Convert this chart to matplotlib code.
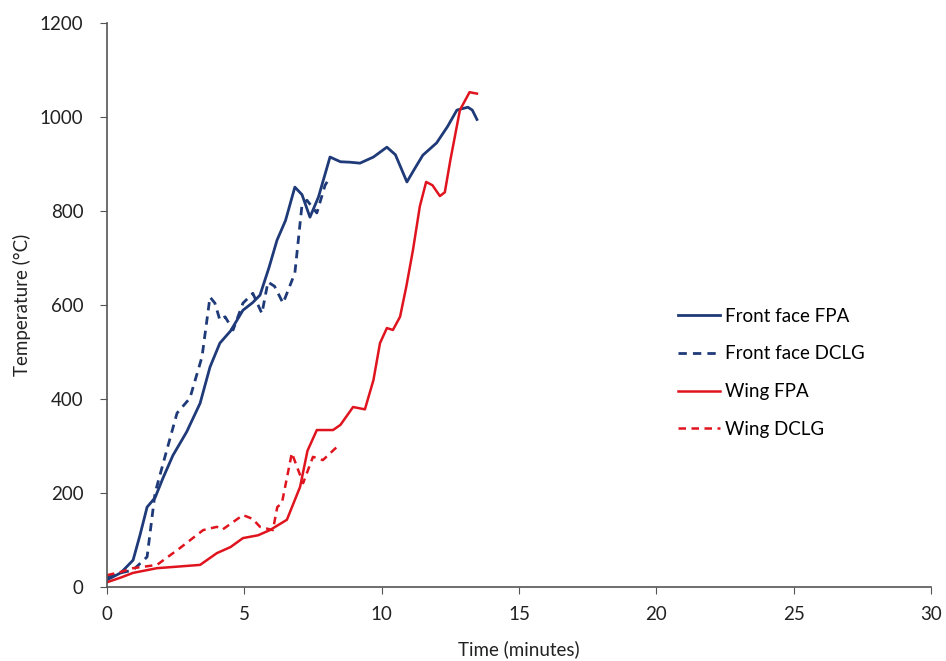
import matplotlib.pyplot as plt

# Front face FPA (solid blue)
ff_fpa_t = [0, 0.5, 0.95, 1.2, 1.46, 1.75, 2.04, 2.4, 2.9, 3.39, 3.75, 4.11, 4.5, 4.95, 5.3, 5.57,
            5.9, 6.19, 6.5, 6.84, 7.1, 7.39, 7.7, 8.12, 8.5, 8.85, 9.21, 9.7, 10.19, 10.5, 10.92,
            11.2, 11.5, 12.0, 12.4, 12.74, 13.14, 13.3, 13.47]
ff_fpa_T = [15, 30, 57, 110, 170, 190, 232, 280, 330, 391, 468, 519, 545, 589, 605, 621,
            680, 738, 780, 851, 835, 787, 830, 915, 905, 904, 902, 915, 936, 920, 862,
            890, 919, 945, 980, 1015, 1021, 1015, 995]

# Front face DCLG (dashed blue)
ff_dclg_t = [0, 0.5, 0.95, 1.46, 1.75, 2.11, 2.55, 3.02, 3.46, 3.75, 3.93, 4.11, 4.3, 4.59, 4.95,
             5.31, 5.64, 5.86, 6.1, 6.41, 6.84, 7.1, 7.28, 7.64, 7.94, 8.1]
ff_dclg_T = [20, 30, 36, 64, 200, 277, 370, 402, 490, 617, 604, 568, 575, 547, 604,
             625, 582, 649, 640, 604, 668, 813, 823, 796, 855, 870]

# Wing FPA (solid red)
w_fpa_t = [0, 0.5, 0.95, 1.82, 2.5, 3.39, 4.0, 4.5, 4.95, 5.5, 5.93, 6.55, 7.03, 7.3, 7.64,
           8.23, 8.5, 8.96, 9.39, 9.7, 9.94, 10.19, 10.41, 10.67, 10.9, 11.14, 11.39, 11.62,
           11.85, 12.12, 12.3, 12.5, 12.85, 13.2, 13.47]
w_fpa_T = [10, 20, 30, 40, 43, 47, 72, 85, 104, 110, 121, 143, 213, 290, 334,
           334, 345, 383, 378, 440, 519, 551, 547, 575, 640, 717, 810, 862,
           855, 832, 840, 908, 1015, 1053, 1050]

# Wing DCLG (dashed red)
w_dclg_t = [0, 0.5, 0.95, 1.82, 2.66, 3.5, 4.0, 4.2, 4.95, 5.3, 5.57, 6.04, 6.2, 6.37, 6.73,
            7.14, 7.5, 7.86, 8.37]
w_dclg_T = [25, 32, 40, 47, 83, 121, 128, 122, 153, 145, 128, 121, 170, 179, 285,
            221, 277, 270, 298]

blue = '#1f3a78'
red = '#e0141e'

plt.rcParams['font.family'] = ['Lato', 'DejaVu Sans']

fig = plt.figure(figsize=(9.46, 6.61), dpi=100)
ax = fig.add_axes([0.1131, 0.112, 0.871, 0.853])

ax.plot(ff_fpa_t, ff_fpa_T, color=blue, lw=2, label='Front face FPA')
ax.plot(ff_dclg_t, ff_dclg_T, color=blue, lw=2, ls=(0, (3, 2.2)), label='Front face DCLG')
ax.plot(w_fpa_t, w_fpa_T, color=red, lw=1.8, label='Wing FPA')
ax.plot(w_dclg_t, w_dclg_T, color=red, lw=1.8, ls=(0, (3, 2.2)), label='Wing DCLG')

ax.set_xlim(0, 30)
ax.set_ylim(0, 1200)
ax.set_xticks(range(0, 31, 5))
ax.set_yticks(range(0, 1201, 200))
ax.set_xlabel('Time (minutes)', fontsize=13.5, color='#222222', labelpad=12)
ax.set_ylabel('Temperature (°C)', fontsize=13.5, color='#222222', labelpad=6)

for s in ['top', 'right']:
    ax.spines[s].set_visible(False)
for s in ['left', 'bottom']:
    ax.spines[s].set_color('#555555')
    ax.spines[s].set_linewidth(1.2)
ax.tick_params(axis='both', labelsize=13.5, colors='#222222', length=5, color='#555555')
ax.tick_params(axis='y', pad=12)
ax.tick_params(axis='x', pad=9)

ax.legend(loc='upper left', bbox_to_anchor=(0.673, 0.525), frameon=False, fontsize=13.5,
          handlelength=2.2, labelspacing=1.1, handletextpad=0.3)

fig.savefig('out.png', dpi=100)
